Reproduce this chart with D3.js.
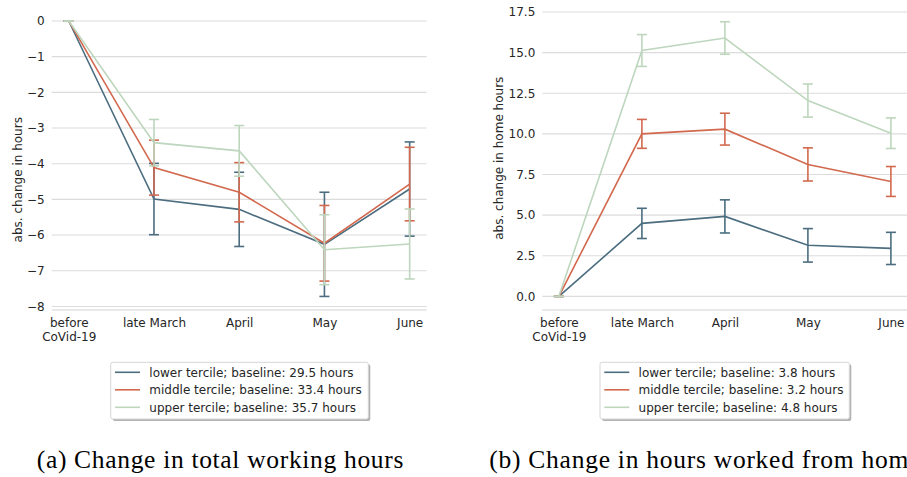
<!DOCTYPE html>
<html>
<head>
<meta charset="utf-8">
<script src="https://d3js.org/d3.v7.min.js"></script>
<style>
    body { margin: 0; background: #fff; }
    svg { display: block; }
    .tick text { font-family: "DejaVu Sans", sans-serif; font-size: 12px; fill: #262626; }
    .ylabel, .legend text { font-family: "DejaVu Sans", sans-serif; font-size: 12px; fill: #262626; }
    .caption { font-family: "Liberation Serif", serif; font-size: 25.5px; fill: #000; }
</style>
</head>
<body>
<script>
// x categories (shared by both panels)
var categories = ["before|CoVid-19", "late March", "April", "May", "June"];

// panel (a): change in total working hours
var totalLower = [0, -4.99, -5.28, -6.26, -4.71];
var totalLowerErr = [0, 1.00, 1.04, 1.46, 1.32];
var totalMiddle = [0, -4.11, -4.80, -6.23, -4.57];
var totalMiddleErr = [0, 0.77, 0.83, 1.06, 1.03];
var totalUpper = [0, -3.41, -3.64, -6.41, -6.25];
var totalUpperErr = [0, 0.65, 0.71, 0.98, 0.98];
var totalTicks = [-8, -7, -6, -5, -4, -3, -2, -1, 0];
var totalLegend = ["lower tercile; baseline: 29.5 hours",
    "middle tercile; baseline: 33.4 hours",
    "upper tercile; baseline: 35.7 hours"];

// panel (b): change in hours worked from home
var homeLower = [0, 4.49, 4.92, 3.14, 2.95];
var homeLowerErr = [0, 0.93, 1.02, 1.03, 0.99];
var homeMiddle = [0, 10.00, 10.29, 8.12, 7.07];
var homeMiddleErr = [0, 0.89, 0.98, 1.02, 0.92];
var homeUpper = [0, 15.13, 15.90, 12.05, 10.04];
var homeUpperErr = [0, 0.98, 1.00, 1.02, 0.94];
var homeTicks = [0, 2.5, 5, 7.5, 10, 12.5, 15, 17.5];
var homeLegend = ["lower tercile; baseline: 3.8 hours",
    "middle tercile; baseline: 3.2 hours",
    "upper tercile; baseline: 4.8 hours"];

var colors = ["#4b6d7f", "#d2694e", "#bdd6bd"];
var w = 907, h = 477;

var svg = d3.select("body").append("svg")
    .attr("width", w)
    .attr("height", h);

function drawPanel(p) {
    var g = svg.append("g").attr("class", "panel");

    var x = d3.scaleLinear().domain([-0.2, 4.2]).range(p.xRange);
    var y = d3.scaleLinear().domain(p.yDomain).range([310, p.yTop]);

    // horizontal gridlines
    g.selectAll(".grid")
        .data(p.ticks)
        .enter()
        .append("line")
        .attr("class", "grid")
        .attr("x1", p.xRange[0])
        .attr("x2", p.xRange[1])
        .attr("y1", function (d) { return y(d); })
        .attr("y2", function (d) { return y(d); })
        .style("stroke", "#dcdcdc")
        .style("stroke-width", 1.1);

    // bottom spine
    g.append("line")
        .attr("x1", p.xRange[0]).attr("x2", p.xRange[1])
        .attr("y1", 310).attr("y2", 310)
        .style("stroke", "#d4d4d4")
        .style("stroke-width", 1.1);

    // y axis labels (no ticks, no line)
    var yAxis = d3.axisLeft(y)
        .tickValues(p.ticks)
        .tickFormat(d3.format(p.fmt))
        .tickSize(0)
        .tickPadding(7);
    var ya = g.append("g")
        .attr("transform", "translate(" + p.xRange[0] + ",0)")
        .call(yAxis);
    ya.select(".domain").remove();

    // x axis labels
    var xAxis = d3.axisBottom(x)
        .tickValues(d3.range(categories.length))
        .tickSize(0)
        .tickPadding(0)
        .tickFormat("");
    var xa = g.append("g")
        .attr("transform", "translate(0,310)")
        .call(xAxis);
    xa.select(".domain").remove();
    xa.selectAll(".tick text")
        .attr("y", 0)
        .attr("dy", null)
        .each(function (d) {
            var parts = categories[d].split("|");
            var t = d3.select(this);
            parts.forEach(function (s, i) {
                t.append("tspan")
                    .attr("x", 0)
                    .attr("y", 17 + i * 14)
                    .text(s);
            });
        });

    // axis title
    g.append("text")
        .attr("class", "ylabel")
        .attr("text-anchor", "middle")
        .attr("transform", "translate(" + p.labelX + "," + y(p.labelMid) + ") rotate(-90)")
        .attr("dy", "0.35em")
        .text(p.label);

    var line = d3.line()
        .x(function (d, i) { return x(i); })
        .y(function (d) { return y(d); });

    p.series.forEach(function (s, k) {
        var col = colors[k];
        g.append("path")
            .datum(s.values)
            .attr("d", line)
            .style("fill", "none")
            .style("stroke", col)
            .style("stroke-width", 1.6);

        var bars = g.selectAll(".err" + k)
            .data(s.values)
            .enter()
            .append("g")
            .attr("class", "err" + k);
        bars.append("line")
            .attr("x1", function (d, i) { return x(i); })
            .attr("x2", function (d, i) { return x(i); })
            .attr("y1", function (d, i) { return y(d - s.err[i]); })
            .attr("y2", function (d, i) { return y(d + s.err[i]); })
            .style("stroke", col)
            .style("stroke-width", 1.6);
        [-1, 1].forEach(function (sign) {
            bars.append("line")
                .attr("x1", function (d, i) { return x(i) - 5; })
                .attr("x2", function (d, i) { return x(i) + 5; })
                .attr("y1", function (d, i) { return y(d + sign * s.err[i]); })
                .attr("y2", function (d, i) { return y(d + sign * s.err[i]); })
                .style("stroke", col)
                .style("stroke-width", 1.6);
        });
    });

    // legend with shadow
    var lg = g.append("g").attr("class", "legend");
    var bw = p.legendW, bh = 56.7;
    lg.append("rect")
        .attr("x", p.legendX + 2).attr("y", 364.3)
        .attr("width", bw).attr("height", bh)
        .attr("rx", 2)
        .style("fill", "#b3b3b3");
    lg.append("rect")
        .attr("x", p.legendX).attr("y", 362.3)
        .attr("width", bw).attr("height", bh)
        .attr("rx", 2)
        .style("fill", "#fff")
        .style("stroke", "#d6d6d6")
        .style("stroke-width", 1);
    var rows = lg.selectAll(".row")
        .data(p.legend)
        .enter()
        .append("g")
        .attr("class", "row")
        .attr("transform", function (d, i) {
            return "translate(" + p.legendX + "," + (372.3 + i * 17.5) + ")";
        });
    rows.append("line")
        .attr("x1", 4.3).attr("x2", 29.3)
        .attr("y1", 0).attr("y2", 0)
        .style("stroke", function (d, i) { return colors[i]; })
        .style("stroke-width", 1.6);
    rows.append("text")
        .attr("x", 38.6)
        .attr("dy", "0.35em")
        .text(function (d) { return d; });

    // caption
    g.append("text")
        .attr("class", "caption")
        .attr("x", p.captionX)
        .attr("y", 468)
        .attr("textLength", p.captionW)
        .attr("lengthAdjust", "spacing")
        .text(p.caption);
}

drawPanel({
    xRange: [51.7, 426.7],
    yDomain: [-8.1, 0.4],
    yTop: 6.7,
    ticks: totalTicks,
    fmt: "d",
    label: "abs. change in hours",
    labelX: 18,
    labelMid: -4.45,
    series: [
        { values: totalLower, err: totalLowerErr },
        { values: totalMiddle, err: totalMiddleErr },
        { values: totalUpper, err: totalUpperErr }
    ],
    legend: totalLegend,
    legendX: 110.7,
    legendW: 257.6,
    caption: "(a) Change in total working hours",
    captionX: 36.7,
    captionW: 366.7
});

drawPanel({
    xRange: [542.3, 907.5],
    yDomain: [-0.84, 18.3],
    yTop: -1.0,
    ticks: homeTicks,
    fmt: ".1f",
    label: "abs. change in home hours",
    labelX: 498.3,
    labelMid: 8.5,
    series: [
        { values: homeLower, err: homeLowerErr },
        { values: homeMiddle, err: homeMiddleErr },
        { values: homeUpper, err: homeUpperErr }
    ],
    legend: homeLegend,
    legendX: 600,
    legendW: 249.3,
    caption: "(b) Change in hours worked from home",
    captionX: 489.3,
    captionW: 431
});
</script>
</body>
</html>
